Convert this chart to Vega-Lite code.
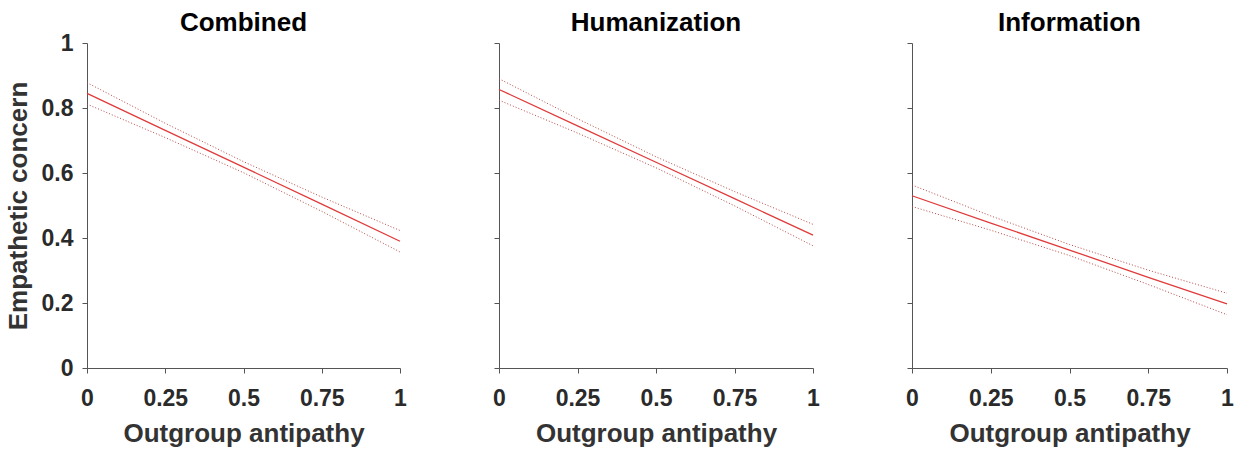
{
  "$schema": "https://vega.github.io/schema/vega-lite/v6.json",
  "padding": {"left": 5, "top": 9, "right": 5, "bottom": 5},
  "background": "white",
  "datasets": {
    "d": [
      {"panel": "Combined", "x": 0, "fit": 0.845, "lo": 0.812, "hi": 0.878},
      {"panel": "Combined", "x": 0.25, "fit": 0.731, "lo": 0.709, "hi": 0.753},
      {"panel": "Combined", "x": 0.5, "fit": 0.618, "lo": 0.601, "hi": 0.635},
      {"panel": "Combined", "x": 0.75, "fit": 0.504, "lo": 0.482, "hi": 0.526},
      {"panel": "Combined", "x": 1, "fit": 0.39, "lo": 0.357, "hi": 0.423},
      {"panel": "Humanization", "x": 0, "fit": 0.857, "lo": 0.824, "hi": 0.89},
      {"panel": "Humanization", "x": 0.25, "fit": 0.745, "lo": 0.723, "hi": 0.767},
      {"panel": "Humanization", "x": 0.5, "fit": 0.633, "lo": 0.616, "hi": 0.65},
      {"panel": "Humanization", "x": 0.75, "fit": 0.521, "lo": 0.499, "hi": 0.543},
      {"panel": "Humanization", "x": 1, "fit": 0.409, "lo": 0.376, "hi": 0.442},
      {"panel": "Information", "x": 0, "fit": 0.53, "lo": 0.497, "hi": 0.563},
      {"panel": "Information", "x": 0.25, "fit": 0.446, "lo": 0.424, "hi": 0.468},
      {"panel": "Information", "x": 0.5, "fit": 0.363, "lo": 0.346, "hi": 0.38},
      {"panel": "Information", "x": 0.75, "fit": 0.279, "lo": 0.257, "hi": 0.301},
      {"panel": "Information", "x": 1, "fit": 0.197, "lo": 0.164, "hi": 0.23}
    ]
  },
  "spacing": 85,
  "hconcat": [
    {
      "title": {"text": "Combined", "offset": -4},
      "width": 313, "height": 325,
      "data": {"name": "d"},
      "transform": [{"filter": "datum.panel === 'Combined'"}],
      "encoding": {
        "x": {"field": "x", "type": "quantitative", "scale": {"domain": [0, 1], "nice": false}, "axis": {"title": "Outgroup antipathy", "values": [0, 0.25, 0.5, 0.75, 1], "format": ".2~f"}}
      },
      "layer": [
        {"mark": {"type": "line", "color": "#b84848", "strokeWidth": 1, "strokeDash": [1, 2]}, "encoding": {"y": {"field": "hi", "type": "quantitative", "scale": {"domain": [0, 1]}, "axis": {"title": "Empathetic concern", "values": [0, 0.2, 0.4, 0.6, 0.8, 1], "format": ".1~f"}}}},
        {"mark": {"type": "line", "color": "#b84848", "strokeWidth": 1, "strokeDash": [1, 2]}, "encoding": {"y": {"field": "lo", "type": "quantitative"}}},
        {"mark": {"type": "line", "color": "#e03a3a", "strokeWidth": 1.3}, "encoding": {"y": {"field": "fit", "type": "quantitative"}}}
      ]
    },
    {
      "spacing": 85,
      "hconcat": [
        {
          "title": {"text": "Humanization", "offset": 7},
          "width": 314, "height": 325,
          "data": {"name": "d"},
          "transform": [{"filter": "datum.panel === 'Humanization'"}],
          "encoding": {
            "x": {"field": "x", "type": "quantitative", "scale": {"domain": [0, 1], "nice": false}, "axis": {"title": "Outgroup antipathy", "values": [0, 0.25, 0.5, 0.75, 1], "format": ".2~f"}}
          },
          "layer": [
            {"mark": {"type": "line", "color": "#b84848", "strokeWidth": 1, "strokeDash": [1, 2]}, "encoding": {"y": {"field": "hi", "type": "quantitative", "scale": {"domain": [0, 1]}, "axis": {"title": null, "labels": false, "values": [0, 0.2, 0.4, 0.6, 0.8, 1]}}}},
            {"mark": {"type": "line", "color": "#b84848", "strokeWidth": 1, "strokeDash": [1, 2]}, "encoding": {"y": {"field": "lo", "type": "quantitative"}}},
            {"mark": {"type": "line", "color": "#e03a3a", "strokeWidth": 1.3}, "encoding": {"y": {"field": "fit", "type": "quantitative"}}}
          ]
        },
        {
          "title": {"text": "Information", "offset": 7},
          "width": 315, "height": 325,
          "data": {"name": "d"},
          "transform": [{"filter": "datum.panel === 'Information'"}],
          "encoding": {
            "x": {"field": "x", "type": "quantitative", "scale": {"domain": [0, 1], "nice": false}, "axis": {"title": "Outgroup antipathy", "values": [0, 0.25, 0.5, 0.75, 1], "format": ".2~f"}}
          },
          "layer": [
            {"mark": {"type": "line", "color": "#b84848", "strokeWidth": 1, "strokeDash": [1, 2]}, "encoding": {"y": {"field": "hi", "type": "quantitative", "scale": {"domain": [0, 1]}, "axis": {"title": null, "labels": false, "values": [0, 0.2, 0.4, 0.6, 0.8, 1]}}}},
            {"mark": {"type": "line", "color": "#b84848", "strokeWidth": 1, "strokeDash": [1, 2]}, "encoding": {"y": {"field": "lo", "type": "quantitative"}}},
            {"mark": {"type": "line", "color": "#e03a3a", "strokeWidth": 1.3}, "encoding": {"y": {"field": "fit", "type": "quantitative"}}}
          ]
        }
      ]
    }
  ],
  "config": {
    "font": "Liberation Sans",
    "view": {"stroke": null},
    "title": {"fontSize": 26, "fontWeight": "bold", "color": "#000", "anchor": "middle"},
    "axis": {
      "grid": false,
      "domainColor": "#555",
      "tickColor": "#555",
      "tickSize": 5,
      "labelFontSize": 23,
      "labelFontWeight": "bold",
      "labelColor": "#2a2a2a",
      "labelFlush": false,
      "titleFontSize": 26,
      "titleFontWeight": "bold",
      "titleColor": "#333"
    },
    "axisX": {"labelPadding": 14, "titlePadding": 10},
    "axisY": {"labelPadding": 9, "titlePadding": 10}
  }
}
